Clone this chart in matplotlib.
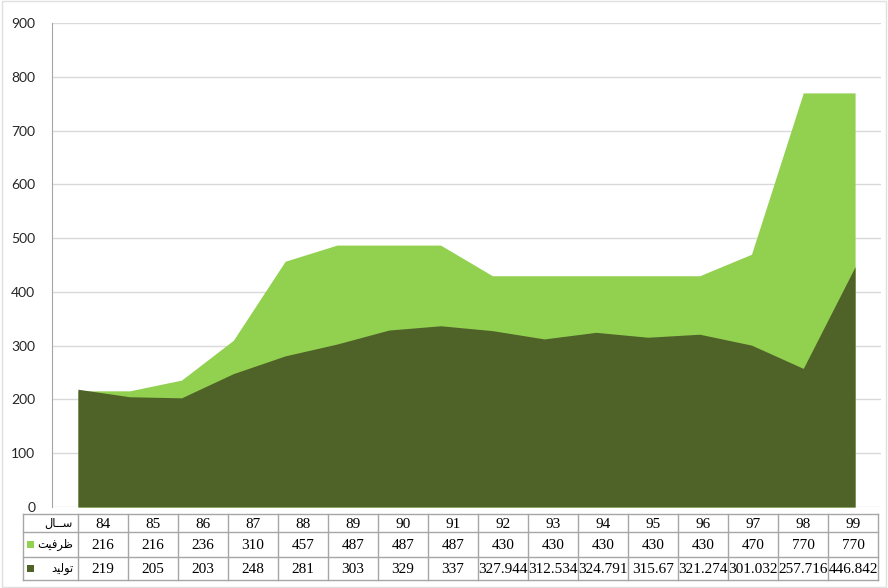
import numpy as np
import matplotlib.pyplot as plt
from matplotlib.patches import Rectangle
from matplotlib.lines import Line2D

years = ['84', '85', '86', '87', '88', '89', '90', '91', '92', '93', '94', '95', '96', '97', '98', '99']
capacity = [216, 216, 236, 310, 457, 487, 487, 487, 430, 430, 430, 430, 430, 470, 770, 770]
production = [219, 205, 203, 248, 281, 303, 329, 337, 327.944, 312.534, 324.791, 315.67, 321.274, 301.032, 257.716, 446.842]
cap_labels = ['216', '216', '236', '310', '457', '487', '487', '487', '430', '430', '430', '430', '430', '470', '770', '770']
prod_labels = ['219', '205', '203', '248', '281', '303', '329', '337', '327.944', '312.534', '324.791', '315.67', '321.274', '301.032', '257.716', '446.842']

# row headers (presentation forms, visual order)
lbl_year = '\uFEDD\uFE8E\u0640\u0640\uFEB3'      # سال
lbl_cap = '\uFE96\uFBFF\uFED3\uFEAE\uFEC7'       # ظرفیت
lbl_prod = '\uFEAA\uFBFF\uFEDF\uFEEE\uFE97'      # تولید

light = '#92D050'
dark = '#4F6228'

W, H = 888, 588
fig = plt.figure(figsize=(W / 100, H / 100), dpi=100)
ax = fig.add_axes([52/W, 81/H, 829/W, 484/H])

x = np.arange(len(years))
ax.fill_between(x, 0, capacity, color=light, linewidth=0, zorder=2)
ax.fill_between(x, 0, production, color=dark, linewidth=0, zorder=3)

ax.set_xlim(-0.5, len(years) - 0.5)
ax.set_ylim(0, 900)
ax.set_yticks(range(0, 901, 100))
ax.yaxis.grid(True, color='#D9D9D9', linewidth=1)
ax.set_axisbelow(True)
ax.set_xticks([])
ax.tick_params(axis='y', length=0, pad=12, labelsize=10, labelcolor='#262626')
for lab in ax.get_yticklabels():
    lab.set_family('Lato')
for s in ['top', 'right', 'bottom']:
    ax.spines[s].set_visible(False)
ax.spines['left'].set_color('#A6A6A6')


def fx(px):
    return px / W


def fy(py):
    return 1 - py / H


# data table below the plot (pixel layout)
rows_px = [514, 532, 557, 580]
tab_left, col0 = 22.5, 78
colw = 50
tab_right = col0 + colw * len(years)
lc = '#A6A6A6'
for yy in rows_px:
    fig.add_artist(Line2D([fx(tab_left), fx(tab_right)], [fy(yy), fy(yy)], color=lc, lw=1))
for xx in [tab_left, col0] + [col0 + colw * (i + 1) for i in range(len(years))]:
    fig.add_artist(Line2D([fx(xx), fx(xx)], [fy(rows_px[0]), fy(rows_px[-1])], color=lc, lw=1))

rows = [years, cap_labels, prod_labels]
for r, vals in enumerate(rows):
    yc = (rows_px[r] + rows_px[r + 1]) / 2 + 1
    for i, v in enumerate(vals):
        fig.text(fx(col0 + colw * (i + 0.5)), fy(yc), v, ha='center', va='center',
                 fontsize=11, family='Liberation Serif', color='black')

renderer = fig.canvas.get_renderer()
heads = []
for r, (lab, col) in enumerate([(lbl_year, None), (lbl_cap, light), (lbl_prod, dark)]):
    yc = (rows_px[r] + rows_px[r + 1]) / 2
    t = fig.text(fx(73), fy(yc), lab, ha='right', va='center',
                 fontsize=10, family='DejaVu Sans', color='black')
    heads.append(t)
    if col:
        fig.patches.append(Rectangle((fx(27), fy(yc + 3.5)), 7 / W, 7 / H, transform=fig.transFigure,
                                     facecolor=col, edgecolor='none'))
widest = max(t.get_window_extent(renderer).width for t in heads)
fs = min(10, 10 * 36 / widest)
for t in heads:
    t.set_fontsize(fs)

fig.patches.append(Rectangle((0.002, 0.002), 0.996, 0.996, transform=fig.transFigure,
                             fill=False, edgecolor='#E0E0E0', lw=1))

fig.savefig('out.png', dpi=100)
